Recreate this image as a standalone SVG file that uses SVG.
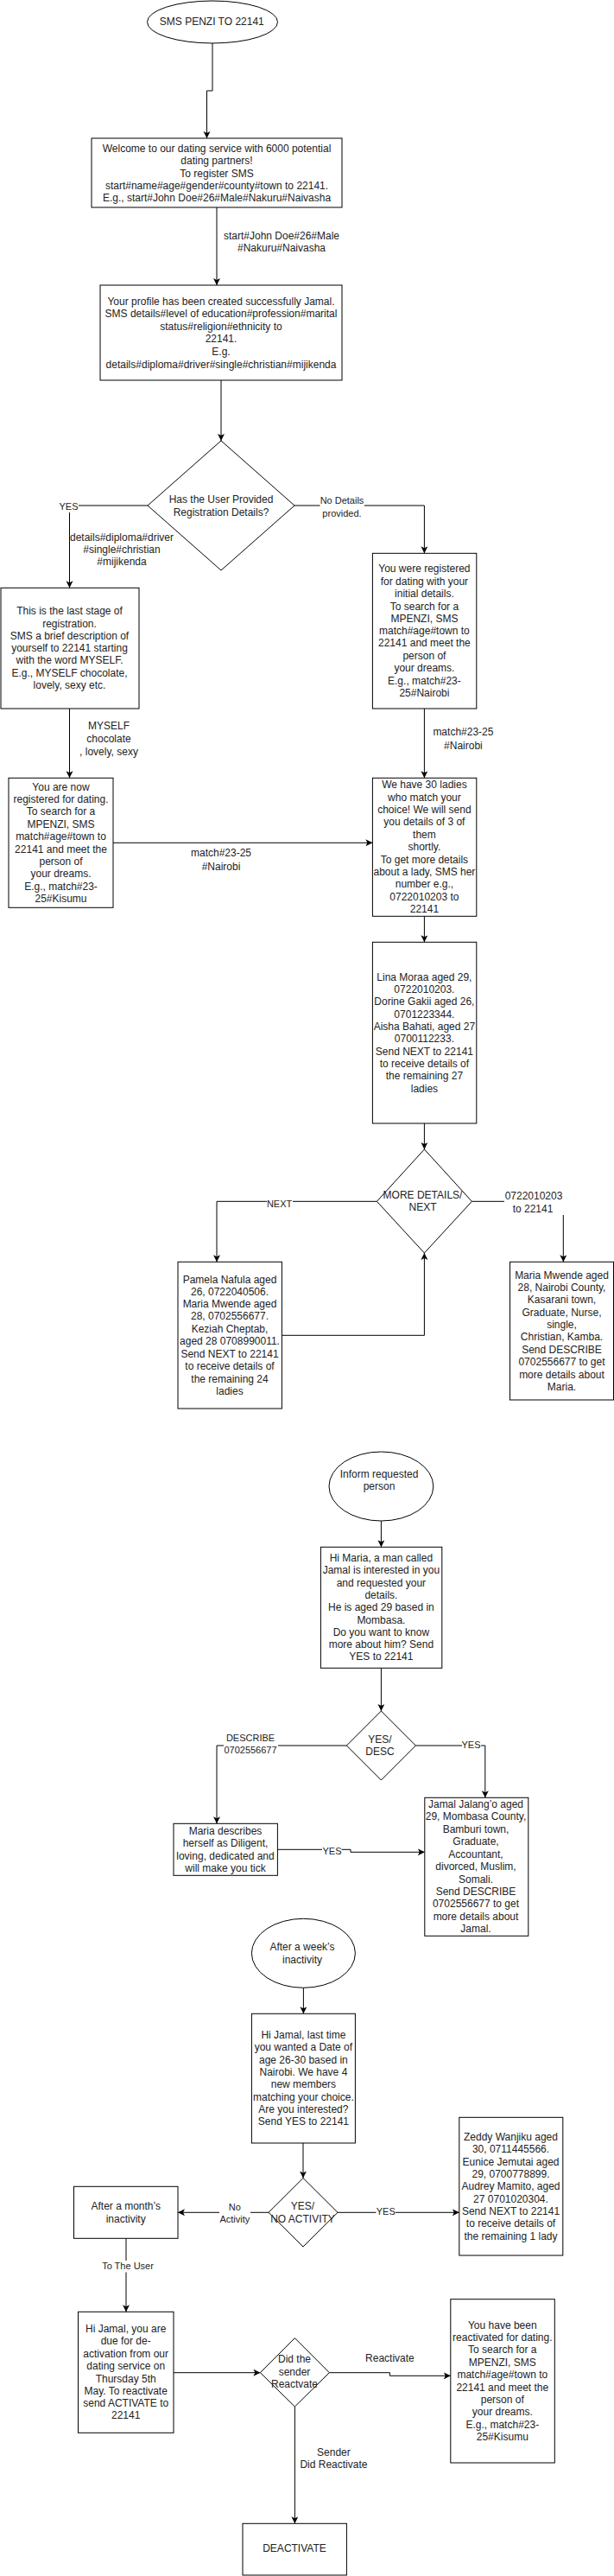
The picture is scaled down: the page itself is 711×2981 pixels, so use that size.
<svg xmlns="http://www.w3.org/2000/svg" width="711" height="2981" viewBox="0 0 711 2981">
<style>
.n{fill:#fff;stroke:#000;stroke-width:1}
.t{font-family:"Liberation Sans",Arial,Helvetica,sans-serif;font-size:12px;fill:#222;text-anchor:middle}
.s{font-size:11px}
.c{fill:none;stroke:#000;stroke-width:1}
.a{marker-end:url(#arr)}
.bg{fill:#fff}
</style>
<defs>
<marker id="arr" markerWidth="10" markerHeight="10" refX="8" refY="4" orient="auto" markerUnits="userSpaceOnUse"><path d="M0,0 L8,4 L0,8 L2,4 z" fill="#000"/></marker>
</defs>
<rect width="711" height="2981" fill="#fff"/>
<g id="connectors">
<g id="e1"><path class="c a" d="M246 50 V105 H239.5 V160"/></g>
<g id="e2"><path class="c a" d="M251 240 V330"/><text class="t" x="326"><tspan x="326" y="276.7">start#John Doe#26#Male</tspan><tspan x="326" y="291.3">#Nakuru#Naivasha</tspan></text></g>
<g id="e3"><path class="c a" d="M256 440 V510"/></g>
<g id="e4"><path class="c a" d="M171 585 H80.5 V680.3"/><rect class="bg" x="68" y="578" width="23" height="15"/><text class="t s" x="79.5" y="589.5">YES</text><text class="t"><tspan x="141" y="625.7">details#diploma#driver</tspan><tspan x="141" y="639.7">#single#christian</tspan><tspan x="141" y="653.7">#mijikenda</tspan></text></g>
<g id="e5"><path class="c a" d="M341 585 H491.4 V640.3"/><rect class="bg" x="370.5" y="572" width="51.5" height="29"/><text class="t s"><tspan x="396" y="583.3">No Details</tspan><tspan x="396" y="597.7">provided.</tspan></text></g>
<g id="e6"><path class="c a" d="M80.5 820 V900.3"/><text class="t"><tspan x="126" y="844.3">MYSELF</tspan><tspan x="126" y="858.7">chocolate</tspan><tspan x="126" y="873.5">, lovely, sexy</tspan></text></g>
<g id="e7"><path class="c a" d="M491.4 820 V900.3"/><text class="t"><tspan x="536.4" y="851.3">match#23-25</tspan><tspan x="536.4" y="866.7">#Nairobi</tspan></text></g>
<g id="e8"><path class="c a" d="M131 975.3 H431.4"/><text class="t"><tspan x="256" y="991.3">match#23-25</tspan><tspan x="256" y="1006.7">#Nairobi</tspan></text></g>
<g id="e9"><path class="c a" d="M491.4 1060.3 V1090.3"/></g>
<g id="e10"><path class="c a" d="M491.4 1300 V1330"/></g>
<g id="e11"><path class="c a" d="M436.4 1390.3 H251 V1460.3"/><rect class="bg" x="309" y="1384" width="30" height="15"/><text class="t s" x="323.6" y="1397">NEXT</text></g>
<g id="e12"><path class="c a" d="M326.4 1545.3 H491.4 V1450"/></g>
<g id="e13"><path class="c a" d="M546.4 1390.3 H652.3 V1460.3"/><rect class="bg" x="584" y="1376" width="70" height="30"/><text class="t"><tspan x="618" y="1388">0722010203</tspan><tspan x="617" y="1402.7">to 22141</tspan></text></g>
<g id="e14"><path class="c a" d="M441.4 1760 V1790.3"/></g>
<g id="e15"><path class="c a" d="M441.4 1930.3 V1980"/></g>
<g id="e16"><path class="c a" d="M401.4 2020 H251 V2110.3"/><rect class="bg" x="259" y="2004" width="63" height="28"/><text class="t s"><tspan x="290" y="2015">DESCRIBE</tspan><tspan x="290" y="2029">0702556677</tspan></text></g>
<g id="e17"><path class="c a" d="M481.4 2020 H561.8 V2080.3"/><rect class="bg" x="535" y="2013" width="22" height="14"/><text class="t s" x="545.5" y="2023.3">YES</text></g>
<g id="e18"><path class="c a" d="M321.4 2140.3 H406 V2143.3 H491.8"/><rect class="bg" x="373" y="2135" width="22.5" height="14"/><text class="t s" x="384.5" y="2146">YES</text></g>
<g id="e19"><path class="c a" d="M351.4 2300.3 V2330.3"/></g>
<g id="e20"><path class="c a" d="M351 2480 V2520.5"/></g>
<g id="e21"><path class="c a" d="M391 2560.3 H531.8"/><rect class="bg" x="435.5" y="2552" width="22.5" height="14"/><text class="t s" x="446.8" y="2562.7">YES</text></g>
<g id="e22"><path class="c a" d="M311 2560.3 H206"/><rect class="bg" x="254" y="2547" width="36" height="29"/><text class="t s"><tspan x="271.8" y="2558.3">No</tspan><tspan x="271.8" y="2572.3">Activity</tspan></text></g>
<g id="e23"><path class="c a" d="M146 2590.3 V2675.3"/><rect class="bg" x="118" y="2616" width="60" height="13.5"/><text class="t s" x="148" y="2626.3">To The User</text></g>
<g id="e24"><path class="c a" d="M201 2745.7 H301.4"/></g>
<g id="e25"><path class="c a" d="M381.4 2745.7 H451.4 V2749.3 H521.8"/><text class="t" x="451.4" y="2733.3">Reactivate</text></g>
<g id="e26"><path class="c a" d="M341.4 2785 V2920.3"/><text class="t"><tspan x="386.4" y="2841.7">Sender</tspan><tspan x="386.4" y="2856.3">Did Reactivate</tspan></text></g>
</g>
<g id="start"><ellipse class="n" cx="246" cy="25.5" rx="75.5" ry="24.5"/><text class="t" x="245.3" y="28.7">SMS PENZI TO 22141</text></g>
<g id="welcome"><rect class="n" x="106" y="160" width="290" height="80"/><text class="t"><tspan x="251" y="176">Welcome to our dating service with 6000 potential</tspan><tspan x="251" y="190.4">dating partners!</tspan><tspan x="251" y="204.8">To register SMS</tspan><tspan x="251" y="219">start#name#age#gender#county#town to 22141.</tspan><tspan x="251" y="233.2">E.g., start#John Doe#26#Male#Nakuru#Naivasha</tspan></text></g>
<g id="profile"><rect class="n" x="116" y="330" width="280" height="110"/><text class="t"><tspan x="256" y="352.7">Your profile has been created successfully Jamal.</tspan><tspan x="256" y="367.3">SMS details#level of education#profession#marital</tspan><tspan x="256" y="381.7">status#religion#ethnicity to</tspan><tspan x="256" y="396.3">22141.</tspan><tspan x="256" y="410.7">E.g.</tspan><tspan x="256" y="425.5">details#diploma#driver#single#christian#mijikenda</tspan></text></g>
<g id="dec-registered"><polygon class="n" points="256,510 341,585 256,660 171,585"/><text class="t"><tspan x="256" y="581.7">Has the User Provided</tspan><tspan x="256" y="596.5">Registration Details?</tspan></text></g>
<g id="last-stage"><rect class="n" x="1" y="680.3" width="160" height="139.7"/><text class="t"><tspan x="80.5" y="710.7">This is the last stage of</tspan><tspan x="80.5" y="725.5">registration.</tspan><tspan x="80.5" y="739.7">SMS a brief description of</tspan><tspan x="80.5" y="754">yourself to 22141 starting</tspan><tspan x="80.5" y="768.3">with the word MYSELF.</tspan><tspan x="80.5" y="783">E.g., MYSELF chocolate,</tspan><tspan x="80.5" y="797">lovely, sexy etc.</tspan></text></g>
<g id="registered-initial"><rect class="n" x="431.4" y="640.3" width="120.4" height="179.7"/><text class="t"><tspan x="491.4" y="661.7">You were registered</tspan><tspan x="491.4" y="676.5">for dating with your</tspan><tspan x="491.4" y="690.7">initial details.</tspan><tspan x="491.4" y="705.5">To search for a</tspan><tspan x="491.4" y="719.7">MPENZI, SMS</tspan><tspan x="491.4" y="734">match#age#town to</tspan><tspan x="491.4" y="748.3">22141 and meet the</tspan><tspan x="491.4" y="762.7">person of</tspan><tspan x="491.4" y="776.7">your dreams.</tspan><tspan x="491.4" y="791.5">E.g., match#23-</tspan><tspan x="491.4" y="805.7">25#Nairobi</tspan></text></g>
<g id="now-registered"><rect class="n" x="10" y="900.3" width="121" height="150"/><text class="t"><tspan x="70.5" y="914.7">You are now</tspan><tspan x="70.5" y="928.7">registered for dating.</tspan><tspan x="70.5" y="942.9">To search for a</tspan><tspan x="70.5" y="957.5">MPENZI, SMS</tspan><tspan x="70.5" y="972">match#age#town to</tspan><tspan x="70.5" y="986.5">22141 and meet the</tspan><tspan x="70.5" y="1000.7">person of</tspan><tspan x="70.5" y="1015">your dreams.</tspan><tspan x="70.5" y="1029.5">E.g., match#23-</tspan><tspan x="70.5" y="1043.7">25#Kisumu</tspan></text></g>
<g id="thirty-ladies"><rect class="n" x="431.4" y="900.3" width="120.4" height="160"/><text class="t"><tspan x="491.4" y="911.7">We have 30 ladies</tspan><tspan x="491.4" y="926.5">who match your</tspan><tspan x="491.4" y="940.7">choice! We will send</tspan><tspan x="491.4" y="955.3">you details of 3 of</tspan><tspan x="491.4" y="969.7">them</tspan><tspan x="491.4" y="984">shortly.</tspan><tspan x="491.4" y="998.7">To get more details</tspan><tspan x="491.4" y="1013">about a lady, SMS her</tspan><tspan x="491.4" y="1027.3">number e.g.,</tspan><tspan x="491.4" y="1041.7">0722010203 to</tspan><tspan x="491.4" y="1056">22141</tspan></text></g>
<g id="first-three"><rect class="n" x="431.4" y="1090.3" width="120.4" height="209.7"/><text class="t"><tspan x="491.4" y="1135">Lina Moraa aged 29,</tspan><tspan x="491.4" y="1149.2">0722010203.</tspan><tspan x="491.4" y="1163.3">Dorine Gakii aged 26,</tspan><tspan x="491.4" y="1177.7">0701223344.</tspan><tspan x="491.4" y="1192">Aisha Bahati, aged 27</tspan><tspan x="491.4" y="1206.3">0700112233.</tspan><tspan x="491.4" y="1220.7">Send NEXT to 22141</tspan><tspan x="491.4" y="1235">to receive details of</tspan><tspan x="491.4" y="1249.3">the remaining 27</tspan><tspan x="491.4" y="1263.5">ladies</tspan></text></g>
<g id="dec-more"><polygon class="n" points="491.4,1330 546.4,1390.3 491.4,1450 436.4,1390.3"/><text class="t"><tspan x="489.5" y="1387">MORE DETAILS/</tspan><tspan x="489.5" y="1401.3">NEXT</tspan></text></g>
<g id="next-three"><rect class="n" x="206" y="1460.3" width="120.4" height="169.7"/><text class="t"><tspan x="266" y="1484.7">Pamela Nafula aged</tspan><tspan x="266" y="1498.7">26, 0722040506.</tspan><tspan x="266" y="1512.7">Maria Mwende aged</tspan><tspan x="266" y="1527.3">28, 0702556677.</tspan><tspan x="266" y="1541.7">Keziah Cheptab,</tspan><tspan x="266" y="1556.3">aged 28 0708990011.</tspan><tspan x="266" y="1570.7">Send NEXT to 22141</tspan><tspan x="266" y="1585">to receive details of</tspan><tspan x="266" y="1599.5">the remaining 24</tspan><tspan x="266" y="1614">ladies</tspan></text></g>
<g id="maria-details"><rect class="n" x="590.5" y="1460.3" width="120" height="159.7"/><text class="t"><tspan x="650.5" y="1480">Maria Mwende aged</tspan><tspan x="650.5" y="1494">28, Nairobi County,</tspan><tspan x="650.5" y="1508.3">Kasarani town,</tspan><tspan x="650.5" y="1522.7">Graduate, Nurse,</tspan><tspan x="650.5" y="1536.7">single,</tspan><tspan x="650.5" y="1551.3">Christian, Kamba.</tspan><tspan x="650.5" y="1565.7">Send DESCRIBE</tspan><tspan x="650.5" y="1580">0702556677 to get</tspan><tspan x="650.5" y="1594.5">more details about</tspan><tspan x="650.5" y="1608.5">Maria.</tspan></text></g>
<g id="inform"><ellipse class="n" cx="441.4" cy="1720" rx="60.4" ry="40"/><text class="t"><tspan x="439" y="1709.7">Inform requested</tspan><tspan x="439" y="1724">person</tspan></text></g>
<g id="hi-maria"><rect class="n" x="371.4" y="1790.3" width="140.4" height="140"/><text class="t"><tspan x="441.4" y="1807">Hi Maria, a man called</tspan><tspan x="441.4" y="1821.3">Jamal is interested in you</tspan><tspan x="441.4" y="1835.7">and requested your</tspan><tspan x="441.4" y="1849.9">details.</tspan><tspan x="441.4" y="1864.3">He is aged 29 based in</tspan><tspan x="441.4" y="1878.7">Mombasa.</tspan><tspan x="441.4" y="1892.9">Do you want to know</tspan><tspan x="441.4" y="1907.1">more about him? Send</tspan><tspan x="441.4" y="1921.3">YES to 22141</tspan></text></g>
<g id="dec-yes-desc"><polygon class="n" points="441.4,1980 481.4,2020 441.4,2060 401.4,2020"/><text class="t"><tspan x="440" y="2016.7">YES/</tspan><tspan x="440" y="2031.3">DESC</tspan></text></g>
<g id="maria-describes"><rect class="n" x="201" y="2110.3" width="120.4" height="60"/><text class="t"><tspan x="261" y="2122.7">Maria describes</tspan><tspan x="261" y="2137">herself as Diligent,</tspan><tspan x="261" y="2151.5">loving, dedicated and</tspan><tspan x="261" y="2165.7">will make you tick</tspan></text></g>
<g id="jamal-details"><rect class="n" x="491.8" y="2080.3" width="120" height="160"/><text class="t"><tspan x="551" y="2091.7">Jamal Jalang’o aged</tspan><tspan x="551" y="2106.3">29, Mombasa County,</tspan><tspan x="551" y="2120.7">Bamburi town,</tspan><tspan x="551" y="2135.3">Graduate,</tspan><tspan x="551" y="2149.7">Accountant,</tspan><tspan x="551" y="2164">divorced, Muslim,</tspan><tspan x="551" y="2178.5">Somali.</tspan><tspan x="551" y="2193">Send DESCRIBE</tspan><tspan x="551" y="2207.2">0702556677 to get</tspan><tspan x="551" y="2221.6">more details about</tspan><tspan x="551" y="2236">Jamal.</tspan></text></g>
<g id="week-inactivity"><ellipse class="n" cx="351.4" cy="2260.3" rx="60" ry="40"/><text class="t"><tspan x="350" y="2256.7">After a week’s</tspan><tspan x="350" y="2271.5">inactivity</tspan></text></g>
<g id="hi-jamal-week"><rect class="n" x="291.4" y="2330.3" width="120" height="149.7"/><text class="t"><tspan x="351.4" y="2358.7">Hi Jamal, last time</tspan><tspan x="351.4" y="2373">you wanted a Date of</tspan><tspan x="351.4" y="2387.5">age 26-30 based in</tspan><tspan x="351.4" y="2401.7">Nairobi. We have 4</tspan><tspan x="351.4" y="2416.3">new members</tspan><tspan x="351.4" y="2430.7">matching your choice.</tspan><tspan x="351.4" y="2444.9">Are you interested?</tspan><tspan x="351.4" y="2459.3">Send YES to 22141</tspan></text></g>
<g id="new-three"><rect class="n" x="531.8" y="2450.3" width="120" height="159.7"/><text class="t"><tspan x="591.5" y="2476.7">Zeddy Wanjiku aged</tspan><tspan x="591.5" y="2490.5">30, 0711445566.</tspan><tspan x="591.5" y="2505.5">Eunice Jemutai aged</tspan><tspan x="591.5" y="2520">29, 0700778899.</tspan><tspan x="591.5" y="2534.2">Audrey Mamito, aged</tspan><tspan x="591.5" y="2548.5">27 0701020304.</tspan><tspan x="591.5" y="2563">Send NEXT to 22141</tspan><tspan x="591.5" y="2577.2">to receive details of</tspan><tspan x="591.5" y="2591.7">the remaining 1 lady</tspan></text></g>
<g id="dec-activity"><polygon class="n" points="351,2520.5 391,2560.3 351,2600 311,2560.3"/><text class="t"><tspan x="350.5" y="2557">YES/</tspan><tspan x="350.5" y="2572">NO ACTIVITY</tspan></text></g>
<g id="month-inactivity"><rect class="n" x="85.5" y="2530.3" width="120.5" height="60"/><text class="t"><tspan x="145.7" y="2556.7">After a month’s</tspan><tspan x="145.7" y="2571.5">inactivity</tspan></text></g>
<g id="deactivation-warning"><rect class="n" x="90.5" y="2675.3" width="110.5" height="140"/><text class="t"><tspan x="145.7" y="2699">Hi Jamal, you are</tspan><tspan x="145.7" y="2713">due for de-</tspan><tspan x="145.7" y="2727.7">activation from our</tspan><tspan x="145.7" y="2741.7">dating service on</tspan><tspan x="145.7" y="2756.5">Thursday 5th</tspan><tspan x="145.7" y="2770.7">May. To reactivate</tspan><tspan x="145.7" y="2784.9">send ACTIVATE to</tspan><tspan x="145.7" y="2799.3">22141</tspan></text></g>
<g id="dec-reactivate"><polygon class="n" points="341.4,2705.7 381.4,2745.7 341.4,2785 301.4,2745.7"/><text class="t"><tspan x="341" y="2734.3">Did the</tspan><tspan x="341" y="2749">sender</tspan><tspan x="341" y="2763.3">Reactvate</tspan></text></g>
<g id="reactivated"><rect class="n" x="521.8" y="2660.7" width="120.5" height="189.3"/><text class="t"><tspan x="581.8" y="2694.7">You have been</tspan><tspan x="581.8" y="2708.7">reactivated for dating.</tspan><tspan x="581.8" y="2723">To search for a</tspan><tspan x="581.8" y="2737.7">MPENZI, SMS</tspan><tspan x="581.8" y="2751.7">match#age#town to</tspan><tspan x="581.8" y="2766.5">22141 and meet the</tspan><tspan x="581.8" y="2780.7">person of</tspan><tspan x="581.8" y="2794.7">your dreams.</tspan><tspan x="581.8" y="2809.5">E.g., match#23-</tspan><tspan x="581.8" y="2823.7">25#Kisumu</tspan></text></g>
<g id="deactivate"><rect class="n" x="281" y="2920.3" width="120.4" height="59.7"/><text class="t" x="341" y="2953.3">DEACTIVATE</text></g>
</svg>
